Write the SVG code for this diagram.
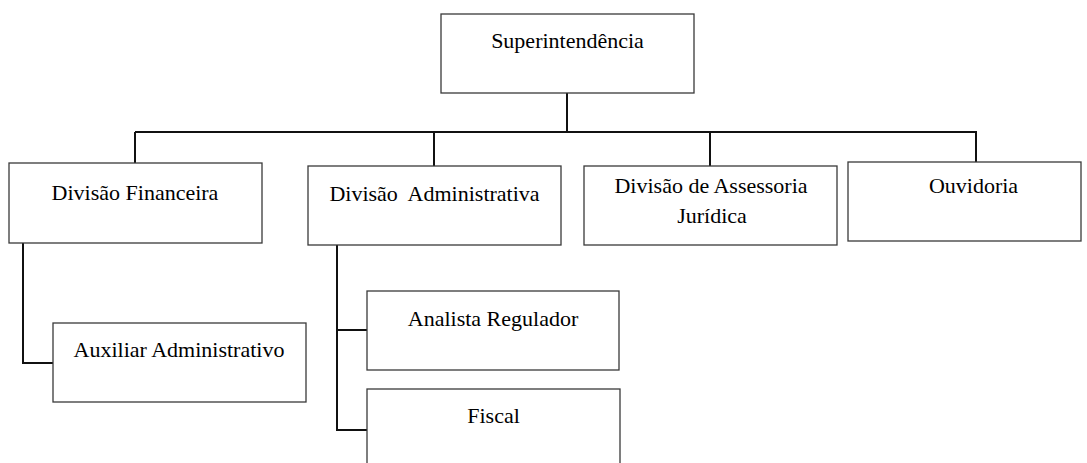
<svg xmlns="http://www.w3.org/2000/svg" width="1087" height="463" viewBox="0 0 1087 463">
<style>
.box{fill:#fff;stroke:#3a3a3a;stroke-width:1.3}
.lbl{font-family:"Liberation Serif","Times New Roman",serif;font-size:22px;fill:#000;text-anchor:middle;white-space:pre}
.con{fill:none;stroke:#111;stroke-width:2}
</style>
<rect width="1087" height="463" fill="#fff"/>
<g id="connectors">
<path class="con" d="M567 93V132M135 132H977M135 132V163M434 132V166M710 132V166M976 132V162"/>
<path class="con" d="M23 243V363H53"/>
<path class="con" d="M337 245V430H367M337 330H367"/>
</g>
<g id="superintendencia"><rect class="box" x="441" y="14" width="253" height="79"/><text class="lbl" x="567.5" y="48">Superintendência</text></g>
<g id="div-financeira"><rect class="box" x="9" y="163" width="253" height="80"/><text class="lbl" x="135" y="200">Divisão Financeira</text></g>
<g id="div-administrativa"><rect class="box" x="308" y="166" width="253" height="79"/><text class="lbl" x="434.5" y="201" xml:space="preserve">Divisão  Administrativa</text></g>
<g id="div-juridica"><rect class="box" x="584" y="166" width="253" height="79"/><text class="lbl" x="711" y="193">Divisão de Assessoria</text><text class="lbl" x="712" y="223">Jurídica</text></g>
<g id="ouvidoria"><rect class="box" x="848" y="162" width="233" height="79"/><text class="lbl" x="973.5" y="193">Ouvidoria</text></g>
<g id="auxiliar"><rect class="box" x="53" y="323" width="253" height="79"/><text class="lbl" x="179" y="357">Auxiliar Administrativo</text></g>
<g id="analista"><rect class="box" x="367" y="291" width="252" height="79"/><text class="lbl" x="493" y="326">Analista Regulador</text></g>
<g id="fiscal"><rect class="box" x="367" y="389" width="253" height="80"/><text class="lbl" x="493.5" y="423">Fiscal</text></g>
</svg>
